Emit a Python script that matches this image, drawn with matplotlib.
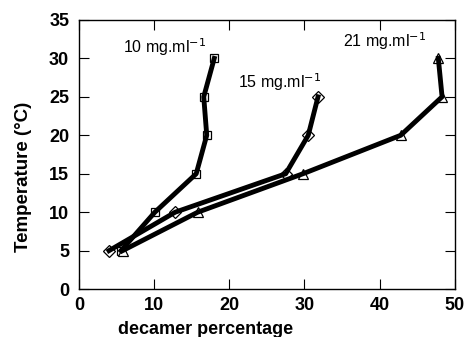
import matplotlib
matplotlib.use("Agg")
import matplotlib.pyplot as plt

plt.rcParams['font.family'] = ['Liberation Sans', 'DejaVu Sans']

# decamer percentage vs temperature for each concentration
temp_10 = [5, 10, 15, 20, 25, 30]
pct_10 = [5.6, 10.1, 15.6, 17.0, 16.6, 18.0]

temp_15 = [5, 10, 15, 20, 25]
pct_15 = [4.0, 12.8, 27.5, 30.5, 31.8]

temp_21 = [5, 10, 15, 20, 25, 30]
pct_21 = [5.8, 15.8, 29.8, 42.8, 48.3, 47.8]

labels = ["10 mg.ml$^{-1}$", "15 mg.ml$^{-1}$", "21 mg.ml$^{-1}$"]
label_pos = [(5.85, 31.5), (21.1, 26.9), (35.1, 32.3)]

fig = plt.figure(figsize=(4.67, 3.37), dpi=100)
ax = fig.add_axes([0.169, 0.142, 0.805, 0.799])

mk = dict(ls='none', markerfacecolor='white', markeredgecolor='black',
          markeredgewidth=0.9, zorder=2)
ax.plot(pct_10, temp_10, marker='s', markersize=6, **mk)
ax.plot(pct_15, temp_15, marker='D', markersize=6, **mk)
ax.plot(pct_21, temp_21, marker='^', markersize=6.5, **mk)

# lines drawn over the markers
for xs, ys in [(pct_10, temp_10), (pct_15, temp_15), (pct_21, temp_21)]:
    ax.plot(xs, ys, color='black', lw=3.5, zorder=3, solid_joinstyle='round')

for txt, (x, y) in zip(labels, label_pos):
    ax.text(x, y, txt, fontsize=11.5, ha='left', va='center')

ax.set_xlim(0, 50)
ax.set_ylim(0, 35)
ax.set_xticks(range(0, 51, 10))
ax.set_yticks(range(0, 36, 5))
ax.tick_params(direction='in', top=True, right=True, length=7, width=0.8,
               labelsize=13)
ax.tick_params(axis='y', pad=7)
ax.tick_params(axis='x', pad=6)
for lab in ax.get_xticklabels() + ax.get_yticklabels():
    lab.set_fontweight('bold')
for sp in ax.spines.values():
    sp.set_linewidth(1.0)

ax.set_xlabel("decamer percentage", fontsize=13, fontweight='bold')
ax.set_ylabel("Temperature (°C)", fontsize=13.5, fontweight='bold')
ax.xaxis.set_label_coords(0.338, -0.12)
ax.yaxis.set_label_coords(-0.125, 0.416)

fig.savefig("out.png", dpi=100)
